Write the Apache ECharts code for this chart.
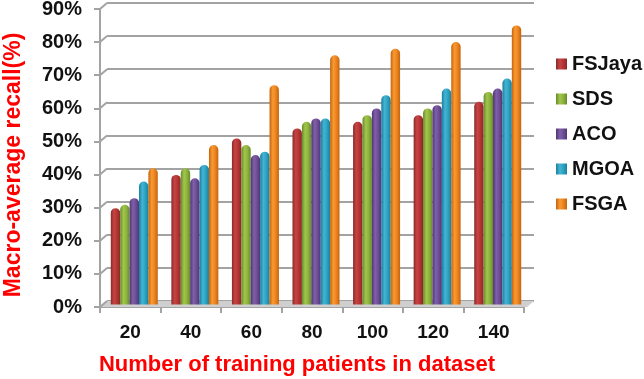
<!DOCTYPE html>
<html><head><meta charset="utf-8">
<style>html,body{margin:0;padding:0;background:#fff}#c{width:644px;height:379px}</style>
<script src="https://cdn.jsdelivr.net/npm/echarts@6/dist/echarts.min.js"></script>
</head><body><div id="c"></div>
<script>
const categories = ['20','40','60','80','100','120','140'];
const FSJaya = [29,39,50,53,55,57,61];
const SDS = [30,41,48,55,57,59,64];
const ACO = [32,38,45,56,59,60,65];
const MGOA = [37,42,46,56,63,65,68];
const FSGA = [41,48,66,75,77,79,84];
const yTicks = [0,10,20,30,40,50,60,70,80,90];

const font = '"Liberation Sans", Arial, sans-serif';
const grad = (d,m,l) => ({type:'linear',x:0,y:0,x2:1,y2:0,colorStops:[
  {offset:0,color:d},{offset:.35,color:l},{offset:.65,color:m},{offset:1,color:d}]});
const styles = [
  ['FSJaya',FSJaya,grad('#8a2a2a','#b53434','#c84444')],
  ['SDS',SDS,grad('#688a2c','#8fb43e','#a0c64c')],
  ['ACO',ACO,grad('#4f3672','#6f4e98','#7f60a8')],
  ['MGOA',MGOA,grad('#1a7f9e','#2ea3c4','#44b4d2')],
  ['FSGA',FSGA,grad('#c4640e','#ee8420','#f89a32')]
];
const DX = -7, DY = 6, AXIS = '#a3a3a3';

const chart = echarts.init(document.getElementById('c'),null,{renderer:'canvas'});
chart.setOption({
  animation:false,
  backgroundColor:'#fff',
  legend:{
    orient:'vertical',left:551,top:49,itemWidth:11,itemHeight:11,itemGap:15,
    icon:'rect',
    textStyle:{fontFamily:font,fontWeight:'bold',fontSize:20,color:'#111',padding:[0,0,0,0]},
    data:styles.map(s=>s[0])
  },
  grid:[
    {left:107,width:427,top:3,height:298,outerBoundsMode:'none'},
    {left:100,width:424,top:9,height:298,outerBoundsMode:'none'},
    {left:104,width:424,top:5.5,height:299,outerBoundsMode:'none'}
  ],
  xAxis:[
    {gridIndex:0,type:'value',min:0,max:1,show:false},
    {gridIndex:1,type:'category',data:categories,
     axisLine:{lineStyle:{color:AXIS,width:2}},
     axisTick:{show:true,length:6,lineStyle:{color:AXIS,width:2}},
     axisLabel:{fontFamily:font,fontWeight:'bold',fontSize:19,color:'#111',margin:16},
     name:'Number of training patients in dataset',nameLocation:'middle',nameGap:47,
     nameTextStyle:{fontFamily:font,fontWeight:'bold',fontSize:22,color:'#f00',padding:[0,30,0,0]}},
    {gridIndex:2,type:'category',data:categories,show:false}
  ],
  yAxis:[
    {gridIndex:0,type:'value',min:0,max:90,interval:10,
     axisLine:{show:false},axisTick:{show:false},axisLabel:{show:false},
     splitLine:{show:true,lineStyle:{color:AXIS,width:2}}},
    {gridIndex:1,type:'value',min:0,max:90,interval:10,
     axisLine:{show:true,lineStyle:{color:AXIS,width:2}},
     axisTick:{show:true,length:6,lineStyle:{color:AXIS,width:2}},
     axisLabel:{fontFamily:font,fontWeight:'bold',fontSize:20,color:'#111',margin:18,formatter:'{value}%'},
     splitLine:{show:false},
     name:'Macro-average recall(%)',nameLocation:'middle',nameGap:75,
     nameTextStyle:{fontFamily:font,fontWeight:'bold',fontSize:23,color:'#f00',padding:[0,14,0,0]}},
    {gridIndex:2,type:'value',min:0,max:90,interval:10,show:false,splitLine:{show:false}}
  ],
  series:[
    {type:'custom',xAxisIndex:0,yAxisIndex:0,z:1,silent:true,data:[[0,0]],
     renderItem:(p,api)=>{
       const a=api.coord([0,0]), b=api.coord([1,0]);
       return {type:'polygon',shape:{points:[a,b,[b[0]+DX,b[1]+DY],[a[0]+DX,a[1]+DY]]},
         style:{fill:'#cfcfcf'}};
     }},
    {type:'custom',xAxisIndex:0,yAxisIndex:0,z:2,silent:true,data:yTicks.map(v=>[0,v]),
     renderItem:(p,api)=>{
       const a=api.coord([0,api.value(1)]);
       return {type:'line',shape:{x1:a[0],y1:a[1],x2:a[0]+DX,y2:a[1]+DY},
         style:{stroke:AXIS,lineWidth:2,fill:null}};
     }},
    ...styles.map(s=>({
      name:s[0],type:'bar',xAxisIndex:2,yAxisIndex:2,data:s[1],z:5,
      barWidth:9.4,barGap:'0%',
      itemStyle:{color:s[2],borderRadius:[5,5,0,0]}
    }))
  ]
});
</script></body></html>
